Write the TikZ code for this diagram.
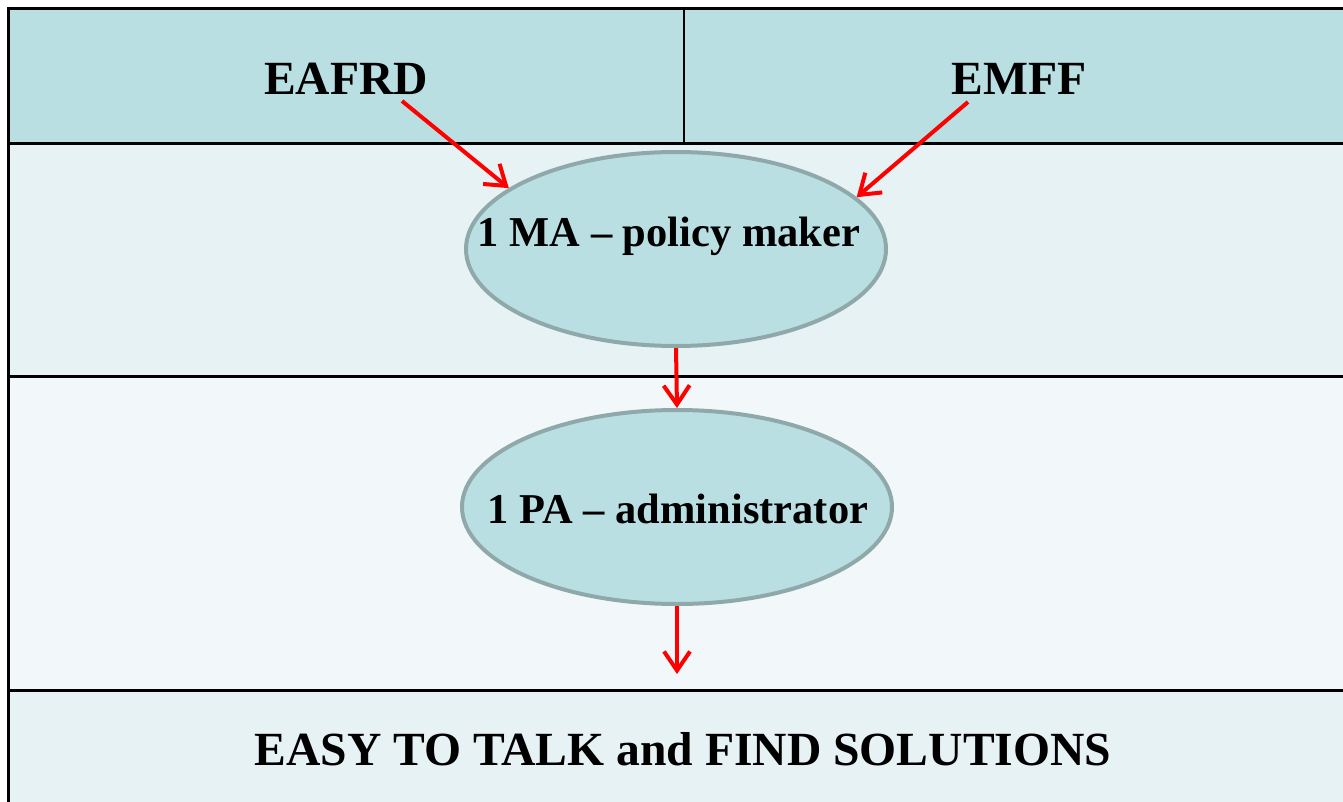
\documentclass[tikz,border=0pt]{standalone}
\usepackage{fontspec}
\setmainfont{Liberation Serif}
\usepackage{xcolor}
\usetikzlibrary{arrows.meta,shapes.geometric}

\definecolor{headfill}{RGB}{186,223,227}
\definecolor{rowfill}{RGB}{231,242,244}
\definecolor{paler}{RGB}{242,248,250}
\definecolor{ringgrey}{RGB}{143,169,170}

% text of an oval: #1 shift left/right (doubled), #2 raise, #3 text
\newcommand{\ovaltext}[3]{\makebox[0pt]{\kern#1\smash{\raisebox{#2}{#3}}}}

\tikzset{
	body/.style={ellipse,draw=ringgrey,fill=headfill,line width=4pt,inner sep=0pt,
		font=\fontsize{42.5}{50}\selectfont\bfseries},
	big/.style={anchor=base,font=\fontsize{47.6}{56}\selectfont\bfseries},
	rule/.style={line width=3pt},
	flow/.style={red,line width=4pt,-{Straight Barb[length=19pt,width=26pt]}}
}

\begin{document}
\begin{tikzpicture}[x=1pt,y=-1pt]
		\useasboundingbox (0,0) rectangle (1343,802);
		\clip (0,0) rectangle (1343,802);
		% bands
		\fill[headfill] (8,9) rectangle (1360,144);
		\fill[rowfill] (8,144) rectangle (1360,376);
		\fill[paler] (8,376) rectangle (1360,690);
		\fill[rowfill] (8,690) rectangle (1360,820);
		\draw[rule] (8,820) -- (8,9) -- (1360,9);
		\draw[rule] (8,144) -- (1360,144);
		\draw[rule] (8,376) -- (1360,376);
		\draw[rule] (8,690) -- (1360,690);
		\draw[line width=2pt] (684,9) -- (684,144);
		%
		\node[big] (eafrd) at (346,95) {EAFRD};
		\node[big] (emff) at (1019,95) {EMFF};
		\node[body,minimum width=420pt,minimum height=194pt] (ma) at (676,249) {\ovaltext{-14pt}{2pt}{1 MA -- policy maker}};
		\node[body,minimum width=430pt,minimum height=194pt] (pa) at (677,507) {\ovaltext{2pt}{-16pt}{1 PA -- administrator}};
		\node[big] (easy) at (683,765) {EASY TO TALK and FIND SOLUTIONS};
		%
		\coordinate (eafrdtail) at (402,101);
		\coordinate (emfftail) at (968,102);
		\coordinate (outtip) at (677,674);
		\path[flow]
		(eafrdtail) edge (ma.160)
		(emfftail) edge (ma.16)
		(ma.south) edge (pa.north)
		(pa.south) edge (outtip);
		\end{tikzpicture}
\end{document}
